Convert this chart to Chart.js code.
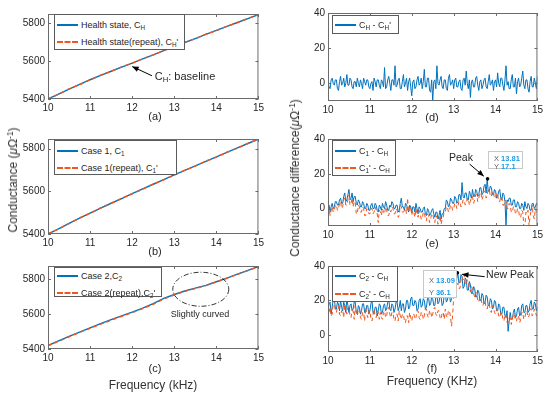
<!DOCTYPE html>
<html>
<head>
<meta charset="utf-8">
<script src="https://cdn.jsdelivr.net/npm/chart.js@4.4.0/dist/chart.umd.min.js"></script>
<style>
body{margin:0;background:#fff;width:550px;height:396px;position:relative;overflow:hidden;font-family:"Liberation Sans",Arial,sans-serif;color:#262626}
canvas{position:absolute}
.t{position:absolute;white-space:nowrap;line-height:1;font-size:11px;transform:translate(-50%,-50%)}
.rot{transform:translate(-50%,-50%) rotate(-90deg)}
.leg{position:absolute;background:#fff;border:1px solid #5a5a5a;font-size:9px;box-sizing:border-box}
.row{position:absolute;left:2px;right:0;height:12px}
.row .s{position:absolute;left:0;top:5px;width:21px;border-top:2px solid #0072BD}
.row .s.d{border-top:2px dashed #F0561D}
.row .lab{position:absolute;left:24px;top:1px;white-space:nowrap}
sub{font-size:70%;vertical-align:-2px;line-height:0}
sup{font-size:70%;vertical-align:4px;line-height:0}
.tip{position:absolute;background:#fff;border:1px solid #c8c8c8;font-size:7.5px;box-sizing:border-box}
.tip div{position:absolute;left:5px;white-space:nowrap;color:#666}
.tip b{color:#1a9be6}
</style>
</head>
<body>

<canvas id="pa"></canvas>
<canvas id="pb"></canvas>
<canvas id="pc"></canvas>
<canvas id="pd"></canvas>
<canvas id="pe"></canvas>
<canvas id="pf"></canvas>

<!-- legends -->
<div class="leg" style="left:54px;top:14px;width:131px;height:36px">
<div class="row" style="top:4px"><span class="s"></span><span class="lab">Health state, C<sub>H</sub></span></div>
<div class="row" style="top:21px"><span class="s d"></span><span class="lab">Health state(repeat), C<sub>H</sub>'</span></div>
</div>
<div class="leg" style="left:54px;top:140px;width:123px;height:35px">
<div class="row" style="top:4px"><span class="s"></span><span class="lab">Case 1, C<sub>1</sub></span></div>
<div class="row" style="top:21px"><span class="s d"></span><span class="lab">Case 1(repeat), C<sub>1</sub>'</span></div>
</div>
<div class="leg" style="left:54px;top:267px;width:108px;height:30px">
<div class="row" style="top:2px"><span class="s"></span><span class="lab">Case 2,C<sub>2</sub></span></div>
<div class="row" style="top:19px"><span class="s d"></span><span class="lab">Case 2(repeat),C<sub>2</sub>'</span></div>
</div>
<div class="leg" style="left:332px;top:15px;width:67px;height:19px">
<div class="row" style="top:3px"><span class="s"></span><span class="lab">C<sub>H</sub> - C<sub>H</sub>'</span></div>
</div>
<div class="leg" style="left:332px;top:140px;width:64px;height:36px">
<div class="row" style="top:4px"><span class="s"></span><span class="lab">C<sub>1</sub> - C<sub>H</sub></span></div>
<div class="row" style="top:21px"><span class="s d"></span><span class="lab">C<sub>1</sub>' - C<sub>H</sub></span></div>
</div>
<div class="leg" style="left:332px;top:266px;width:66px;height:36px">
<div class="row" style="top:3px"><span class="s"></span><span class="lab">C<sub>2</sub> - C<sub>H</sub></span></div>
<div class="row" style="top:21px"><span class="s d"></span><span class="lab">C<sub>2</sub>' - C<sub>H</sub></span></div>
</div>

<!-- data tips -->
<div class="tip" style="left:488px;top:151px;width:35px;height:18px">
<div style="top:2px">X <b>13.81</b></div>
<div style="top:10px">Y <b>17.1</b></div>
</div>
<div class="tip" style="left:423px;top:270px;width:34px;height:28px">
<div style="top:5px">X <b>13.09</b></div>
<div style="top:17px">Y <b>36.1</b></div>
</div>

<!-- annotation texts -->
<div class="t" style="left:185px;top:76px">C<sub>H</sub>: baseline</div>
<div class="t" style="left:200px;top:314px;font-size:9px">Slightly curved</div>
<div class="t" style="left:461px;top:157px;font-size:10.5px">Peak</div>
<div class="t" style="left:510px;top:274px;font-size:10.5px">New Peak</div>

<!-- panel labels -->
<div class="t" style="left:155px;top:116px">(a)</div>
<div class="t" style="left:155px;top:251px">(b)</div>
<div class="t" style="left:155px;top:368px">(c)</div>
<div class="t" style="left:432px;top:117px">(d)</div>
<div class="t" style="left:432px;top:243px">(e)</div>
<div class="t" style="left:432px;top:368px">(f)</div>

<!-- axis titles -->
<div class="t" style="left:153px;top:385px;font-size:12px;color:#333">Frequency (kHz)</div>
<div class="t" style="left:432px;top:381px;font-size:12px;color:#333">Frequency (KHz)</div>
<div class="t rot" style="left:13px;top:180px;font-size:12px;color:#333">Conductance (<i>μ</i>Ω<sup>-1</sup>)</div>
<div class="t rot" style="left:295px;top:178px;font-size:12px;color:#333">Conductance difference(<i>μ</i>Ω<sup>-1</sup>)</div>

<script>
// Tick values
const xTicks = [10, 11, 12, 13, 14, 15];
const condTicks = [5400, 5600, 5800];
const diffTicks = [0, 20, 40];

// Frequency grid of the conductance curves (kHz)
const freqLin = [10,10.25,10.5,10.75,11,11.25,11.5,11.75,12,12.25,12.5,12.75,13,13.25,13.5,13.75,14,14.25,14.5,14.75,15];

// (a) health state and repeat
const cH  = [5400,5426,5452,5477,5502,5525,5547,5569,5590,5612,5634,5656,5677,5699,5720,5742,5763,5784,5805,5826,5847];
const cHr = [5401,5425,5453,5476,5501,5526,5546,5570,5589,5613,5633,5657,5676,5700,5719,5743,5762,5785,5804,5827,5846];

// (b) case 1 and repeat
const c1  = [5400,5424,5450,5474,5498,5521,5544,5566,5589,5611,5633,5655,5677,5698,5719,5740,5761,5782,5803,5824,5845];
const c1r = [5401,5423,5449,5475,5497,5522,5543,5567,5588,5610,5634,5654,5676,5699,5718,5741,5760,5783,5802,5825,5844];

// (c) case 2 and repeat
const c2  = [5420,5446,5472,5497,5521,5545,5568,5590,5611,5634,5660,5690,5712,5732,5748,5764,5785,5806,5828,5850,5872];
const c2r = [5419,5444,5470,5495,5518,5542,5565,5587,5608,5631,5656,5686,5710,5730,5746,5763,5784,5805,5827,5849,5871];

// Frequency grid of the difference curves (kHz)
const freq = [
10,10.025,10.05,10.075,10.1,10.125,10.15,10.175,10.2,10.225,
10.25,10.275,10.3,10.325,10.35,10.375,10.4,10.425,10.45,10.475,
10.5,10.525,10.55,10.575,10.6,10.625,10.65,10.675,10.7,10.725,
10.75,10.775,10.8,10.825,10.85,10.875,10.9,10.925,10.95,10.975,
11,11.025,11.05,11.075,11.1,11.125,11.15,11.175,11.2,11.225,
11.25,11.275,11.3,11.325,11.35,11.375,11.4,11.425,11.45,11.475,
11.5,11.525,11.55,11.575,11.6,11.625,11.65,11.675,11.7,11.725,
11.75,11.775,11.8,11.825,11.85,11.875,11.9,11.925,11.95,11.975,
12,12.025,12.05,12.075,12.1,12.125,12.15,12.175,12.2,12.225,
12.25,12.275,12.3,12.325,12.35,12.375,12.4,12.425,12.45,12.475,
12.5,12.525,12.55,12.575,12.6,12.625,12.65,12.675,12.7,12.725,
12.75,12.775,12.8,12.825,12.85,12.875,12.9,12.925,12.95,12.975,
13,13.025,13.05,13.075,13.1,13.125,13.15,13.175,13.2,13.225,
13.25,13.275,13.3,13.325,13.35,13.375,13.4,13.425,13.45,13.475,
13.5,13.525,13.55,13.575,13.6,13.625,13.65,13.675,13.7,13.725,
13.75,13.775,13.8,13.825,13.85,13.875,13.9,13.925,13.95,13.975,
14,14.025,14.05,14.075,14.1,14.125,14.15,14.175,14.2,14.225,
14.25,14.275,14.3,14.325,14.35,14.375,14.4,14.425,14.45,14.475,
14.5,14.525,14.55,14.575,14.6,14.625,14.65,14.675,14.7,14.725,
14.75,14.775,14.8,14.825,14.85,14.875,14.9,14.925,14.95,14.975,
15];

// (d) C_H - C_H'
const dH = [
1,-2,-3,2,3,0,-1,2,2,-3,
-4,1,4,-1,0,3,-2,0,5,-1,
-1,3,2,-2,-3,1,1,-2,3,0,
-2,2,0,-3,3,1,-1,2,2,-2,
-3,0,1,-4,3,1,-2,2,2,-1,
-3,2,1,-2,9,-3,-2,2,4,0,
-4,2,2,-1,10,-2,-1,2,3,-3,
-3,1,5,-2,0,3,-4,1,3,-2,
-7,1,2,-3,-2,2,4,-1,0,3,
-3,1,8,-2,-2,3,3,-4,-5,2,
-10,1,2,-3,10,0,-1,2,4,-2,
-3,2,2,-3,-4,3,5,-1,0,2,
-3,2,3,-2,-2,1,2,-3,-4,2,
3,-1,7,0,-3,2,-8,1,2,-2,
-2,3,4,-1,-4,1,2,-3,-1,2,
3,-2,-3,1,5,-1,0,2,-4,1,
2,-2,6,0,-2,3,3,-1,-4,2,
10,-1,1,-3,-3,2,5,-2,-2,3,
-6,1,3,-2,-1,3,7,-1,-3,2,
2,-3,-5,1,4,-2,-2,3,0,-3,
4];

// (e) C1 - C_H and C1' - C_H
const d1 = [
0,2,-2,1,3,0,1,4,4,2,
2,5,6,3,3,7,9,4,5,8,
11,5,6,9,4,7,7,3,2,5,
4,1,1,4,3,0,0,3,2,-1,
-1,2,3,0,0,3,2,-1,-2,2,
1,-1,3,1,0,4,2,-1,-1,2,
1,4,3,0,0,2,2,-2,-1,3,
6,1,1,-1,3,2,0,-2,2,1,
-2,1,1,-2,3,0,-3,1,0,-2,
-2,0,1,-3,-4,0,-1,-4,-3,-1,
0,-3,-5,-2,-2,-6,-4,-1,-6,-3,
-3,0,0,5,4,1,2,6,5,3,
3,7,6,3,4,8,8,5,15,7,
6,9,9,5,5,10,8,6,11,7,
7,11,10,7,8,12,12,8,9,13,
14,9,17,10,10,13,12,8,8,11,
10,6,7,10,11,6,5,9,8,4,
-10,5,4,6,6,2,2,5,5,1,
1,4,3,0,0,3,2,-1,4,1,
0,3,2,-1,-1,3,3,0,1,3,
2];
const d1r = [
-2,0,-4,-1,1,-2,-1,2,2,-1,
0,3,4,0,1,5,6,2,2,5,
8,2,3,6,1,4,4,-3,-3,2,
1,-2,-2,1,0,-4,-4,0,-1,-3,
-3,0,0,-3,-2,1,-1,-3,-8,-1,
-2,-4,0,-2,-3,1,-1,-4,-4,-1,
-2,1,0,-3,-3,0,-1,-5,-4,2,
1,-2,-2,-1,0,-3,6,-2,-1,1,
-4,-1,-2,-5,0,-3,-5,-1,-3,-6,
-6,-2,-2,-6,-7,-3,-4,-8,-6,-3,
-3,-6,-8,-4,-5,-9,-7,-4,-9,-6,
-5,-2,-2,1,1,-2,-1,2,2,-1,
0,3,3,0,1,4,4,1,2,5,
5,2,3,6,6,2,4,7,7,3,
5,8,8,4,6,9,9,5,7,10,
10,6,8,11,11,7,7,10,9,6,
6,9,8,4,4,7,6,2,2,5,
4,0,0,3,2,-2,-2,1,1,-3,
-3,0,-1,-5,-5,-1,-2,-10,-10,-2,
-3,-1,-10,-4,-1,2,-4,-6,0,-2,
-2];

// (f) C2 - C_H and C2' - C_H
const d2 = [
14,18,19,12,16,21,22,15,15,19,
18,14,20,16,14,19,17,13,21,17,
13,17,18,14,15,19,19,13,12,17,
16,12,14,18,18,13,13,17,17,12,
14,18,20,13,12,16,16,11,14,18,
17,12,13,17,18,14,15,19,21,15,
14,18,17,13,15,19,19,14,16,20,
14,18,18,13,15,20,20,15,16,21,
22,17,17,20,19,14,15,20,21,16,
17,21,20,15,16,21,22,17,18,22,
21,17,17,22,23,18,19,23,22,17,
18,23,24,19,20,24,23,19,21,25,
30,26,27,33,36,30,31,35,34,27,
28,33,32,26,26,31,29,24,24,28,
27,22,22,26,25,20,20,24,23,18,
19,23,22,17,17,21,20,15,16,20,
19,14,14,18,17,12,12,16,16,11,
10,14,2,8,13,9,9,13,15,10,
11,15,16,11,12,17,18,13,13,17,
17,13,14,18,20,15,15,19,18,14,
16];
const d2r = [
9,13,16,11,12,18,20,14,13,16,
17,12,11,14,15,10,18,15,12,16,
16,11,10,14,14,9,17,13,11,15,
15,10,9,13,13,8,16,12,10,14,
14,9,8,12,15,11,10,14,13,9,
13,10,9,13,14,10,11,15,16,12,
10,13,13,9,8,12,12,8,14,11,
9,12,12,8,7,11,11,7,13,10,
8,12,12,9,10,14,14,10,9,13,
13,9,11,15,15,11,10,14,14,10,
12,15,16,12,11,14,14,10,9,13,
13,9,15,11,10,14,14,10,5,11,
22,24,26,29,30,27,27,32,34,32,
35,30,29,32,31,27,25,28,27,24,
22,25,24,20,19,22,21,18,17,20,
19,16,15,18,18,14,13,17,16,13,
12,15,15,11,10,13,13,9,8,12,
11,7,7,10,10,6,9,12,12,8,
8,11,11,7,9,13,13,9,10,13,
14,10,11,15,15,11,12,15,14,11,
12];

// Peak points marked on (e) and (f)
const peak1 = [13.81, 17.1];
const peak2 = [13.09, 36.1];


const BLUE = "#0072BD";
const ORANGE = "#F0561D";
const FONT = "'Liberation Sans', Arial, sans-serif";

// space round the plot area inside each canvas
const YW = 40, PT = 6, PR = 8, XH = 18;

const pairs = (xs, ys) => xs.map((x, i) => ({ x: x, y: ys[i] }));

// Box, inner ticks and annotations, MATLAB style
const framePlugin = {
  id: "frame",
  afterDatasetsDraw(chart, args, opts) {
    const { ctx, chartArea: a, scales: { x, y } } = chart;
    ctx.save();
    ctx.strokeStyle = "#6b6b6b";
    ctx.lineWidth = 1;
    ctx.strokeRect(a.left + 0.5, a.top + 0.5, a.right - a.left - 1, a.bottom - a.top - 1);

    ctx.beginPath();
    x.ticks.forEach((t) => {
      const px = Math.round(x.getPixelForValue(t.value)) + 0.5;
      ctx.moveTo(px, a.bottom); ctx.lineTo(px, a.bottom - 3);
      ctx.moveTo(px, a.top); ctx.lineTo(px, a.top + 3);
    });
    y.ticks.forEach((t) => {
      const py = Math.round(y.getPixelForValue(t.value)) + 0.5;
      ctx.moveTo(a.left, py); ctx.lineTo(a.left + 3, py);
      ctx.moveTo(a.right, py); ctx.lineTo(a.right - 3, py);
    });
    ctx.stroke();

    (opts.marks || []).forEach((m) => {
      ctx.strokeStyle = "#000";
      ctx.fillStyle = "#000";
      if (m.type === "dot") {
        ctx.beginPath();
        ctx.arc(x.getPixelForValue(m.at[0]), y.getPixelForValue(m.at[1]), 1.8, 0, Math.PI * 2);
        ctx.fill();
      }
      if (m.type === "arrow") {
        const x1 = x.getPixelForValue(m.from[0]), y1 = y.getPixelForValue(m.from[1]);
        const x2 = x.getPixelForValue(m.to[0]), y2 = y.getPixelForValue(m.to[1]);
        const ang = Math.atan2(y2 - y1, x2 - x1);
        ctx.lineWidth = 1;
        ctx.beginPath();
        ctx.moveTo(x1, y1); ctx.lineTo(x2, y2);
        ctx.stroke();
        ctx.beginPath();
        ctx.moveTo(x2, y2);
        ctx.lineTo(x2 - 7 * Math.cos(ang - 0.4), y2 - 7 * Math.sin(ang - 0.4));
        ctx.lineTo(x2 - 7 * Math.cos(ang + 0.4), y2 - 7 * Math.sin(ang + 0.4));
        ctx.closePath();
        ctx.fill();
      }
      if (m.type === "ellipse") {
        ctx.lineWidth = 0.8;
        ctx.setLineDash([5, 2, 1, 2]);
        ctx.beginPath();
        ctx.ellipse(x.getPixelForValue(m.at[0]), y.getPixelForValue(m.at[1]), m.rx, m.ry, 0, 0, Math.PI * 2);
        ctx.stroke();
        ctx.setLineDash([]);
      }
    });
    ctx.restore();
  }
};

const solid = (data, w) => ({ data: data, borderColor: BLUE, borderWidth: w, pointRadius: 0, order: 2 });
const dashed = (data, w) => ({ data: data, borderColor: ORANGE, borderWidth: w, borderDash: [4, 3], pointRadius: 0, order: 1 });

const panels = [
  { id: "pa", left: 48, top: 11, w: 211, h: 88, ymin: 5400, ymax: 5850, yt: condTicks,
    sets: [solid(pairs(freqLin, cH), 1.4), dashed(pairs(freqLin, cHr), 1.4)],
    marks: [{ type: "arrow", from: [12.47, 5523], to: [12.0, 5572] }] },
  { id: "pb", left: 48, top: 136, w: 211, h: 98, ymin: 5400, ymax: 5845, yt: condTicks,
    sets: [solid(pairs(freqLin, c1), 1.4), dashed(pairs(freqLin, c1r), 1.4)], marks: [] },
  { id: "pc", left: 48, top: 263, w: 211, h: 86, ymin: 5400, ymax: 5875, yt: condTicks,
    sets: [solid(pairs(freqLin, c2), 1.4), dashed(pairs(freqLin, c2r), 1.4)],
    marks: [{ type: "ellipse", at: [13.63, 5742], rx: 28, ry: 17 }] },
  { id: "pd", left: 328, top: 10, w: 210, h: 91, ymin: -10, ymax: 40, yt: diffTicks,
    sets: [solid(pairs(freq, dH), 1)], marks: [] },
  { id: "pe", left: 328, top: 136, w: 210, h: 90, ymin: -10, ymax: 40, yt: diffTicks,
    sets: [solid(pairs(freq, d1), 1), dashed(pairs(freq, d1r), 1)],
    marks: [{ type: "arrow", from: [13.38, 25.6], to: [13.72, 18.6] }, { type: "dot", at: peak1 }] },
  { id: "pf", left: 328, top: 263, w: 210, h: 89, ymin: -10, ymax: 40, yt: diffTicks,
    sets: [solid(pairs(freq, d2), 1), dashed(pairs(freq, d2r), 1)],
    marks: [{ type: "arrow", from: [13.74, 33.8], to: [13.2, 35.2] }, { type: "dot", at: peak2 }] }
];

panels.forEach((p) => {
  const cv = document.getElementById(p.id);
  cv.width = YW + p.w + PR;
  cv.height = PT + p.h + XH;
  cv.style.left = (p.left - YW) + "px";
  cv.style.top = (p.top - PT) + "px";

  const tickFont = { family: FONT, size: 10 };

  new Chart(cv.getContext("2d"), {
    type: "line",
    data: { datasets: p.sets },
    options: {
      responsive: false,
      animation: false,
      events: [],
      layout: { padding: { top: PT, right: PR, left: 0, bottom: 0 } },
      elements: { line: { tension: 0 } },
      plugins: { legend: { display: false }, tooltip: { enabled: false }, frame: { marks: p.marks } },
      scales: {
        x: {
          type: "linear", min: 10, max: 15,
          grid: { display: false, drawTicks: false },
          border: { display: false },
          afterBuildTicks: (s) => { s.ticks = xTicks.map((v) => ({ value: v })); },
          afterFit: (s) => { s.height = XH; },
          ticks: { padding: 3, color: "#262626", font: tickFont, maxRotation: 0, autoSkip: false,
                   callback: (v) => String(v) }
        },
        y: {
          type: "linear", min: p.ymin, max: p.ymax,
          grid: { display: false, drawTicks: false },
          border: { display: false },
          afterBuildTicks: (s) => { s.ticks = p.yt.map((v) => ({ value: v })); },
          afterFit: (s) => { s.width = YW; },
          ticks: { padding: 3, color: "#262626", font: tickFont, autoSkip: false,
                   callback: (v) => String(v) }
        }
      }
    },
    plugins: [framePlugin]
  });
});
</script>
</body>
</html>
